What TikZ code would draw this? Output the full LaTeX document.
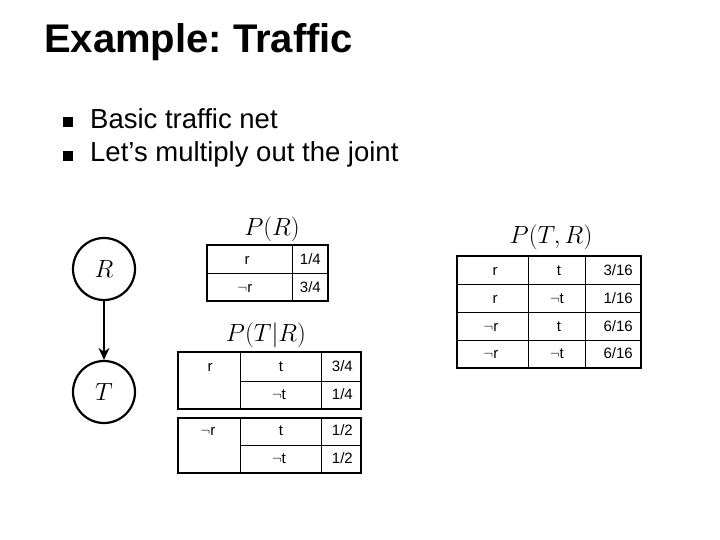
\documentclass[tikz,border=0pt]{standalone}
\usepackage{fontspec}
\setmainfont{Liberation Sans}
\usepackage{amssymb}
\usetikzlibrary{arrows.meta}
\frenchspacing
\begin{document}
\begin{tikzpicture}[x=1pt,y=-1pt,
  outer/.style={line width=2.8pt},
  inner/.style={line width=0.9pt},
  cell/.style={font=\fontsize{15}{17}\selectfont, inner sep=0pt, text height=11pt, text depth=0pt},
  ttl/.style={font=\fontsize{30}{32}\selectfont, inner sep=0pt},
  bul/.style={font=\fontsize{27.5}{30}\selectfont, anchor=west, inner sep=0pt},
  var/.style={circle, draw, line width=2.2pt, minimum size=62pt, font=\fontsize{30}{32}\selectfont}]
\useasboundingbox (0,0) rectangle (720,540);
\node[anchor=west, font=\bfseries\fontsize{40}{44}\selectfont, inner sep=0pt] (title) at (44,42) {Example: Traffic};
\fill (63,117) rectangle (73,127);
\fill (63,151) rectangle (73,161);
\node[bul] (b1) at (90,119) {Basic traffic net};
\node[bul] (b2) at (90,154) {Let’s multiply out the joint};
% network
\node[var] (R) at (104,269) {$R$};
\node[var] (T) at (104,392) {$T$};
\draw[line width=1.4pt, -{Stealth[length=12pt,width=11pt]}] (R) -- (T);
% P(R)
\node[ttl] (tR) at (272,229) {$P(R)$};
\draw[inner] (207,273) -- (328,273) (292,245) -- (292,301);
\draw[outer] (207,245) rectangle (328,301);
\node[cell] (a1) at (247,259) {r};
\node[cell, anchor=east] (a2) at (321,259) {1/4};
\node[cell] (a3) at (245,287) {$\neg$r};
\node[cell, anchor=east] (a4) at (321,287) {3/4};
% P(T|R)
\node[ttl] (tTR) at (266,335) {$P(T|R)$};
\draw[inner] (240,381) -- (361,381) (240,352) -- (240,409) (321,352) -- (321,409);
\draw[outer] (178,352) rectangle (361,409);
\draw[inner] (240,445) -- (361,445) (240,418) -- (240,473) (321,418) -- (321,473);
\draw[outer] (178,418) rectangle (361,473);
\node[cell] (c1) at (210,366) {r};
\node[cell] (c2) at (281,366) {t};
\node[cell, anchor=east] (c3) at (353,366) {3/4};
\node[cell] (c4) at (279,394) {$\neg$t};
\node[cell, anchor=east] (c5) at (353,394) {1/4};
\node[cell] (c6) at (208,430) {$\neg$r};
\node[cell] (c7) at (281,430) {t};
\node[cell, anchor=east] (c8) at (353,430) {1/2};
\node[cell] (c9) at (279,458) {$\neg$t};
\node[cell, anchor=east] (c10) at (353,458) {1/2};
% P(T,R)
\node[ttl] (tJ) at (551,237) {$P(T,R)$};
\draw[inner] (457,284) -- (641,284) (457,312) -- (641,312) (457,340) -- (641,340)
  (528,256) -- (528,368) (585,256) -- (585,368);
\draw[outer] (457,256) rectangle (641,368);
\node[cell] (j1) at (495,270) {r};
\node[cell] (j2) at (559,270) {t};
\node[cell, anchor=east] (j3) at (633,270) {3/16};
\node[cell] (j4) at (495,298) {r};
\node[cell] (j5) at (557,298) {$\neg$t};
\node[cell, anchor=east] (j6) at (633,298) {1/16};
\node[cell] (j7) at (491,326) {$\neg$r};
\node[cell] (j8) at (559,326) {t};
\node[cell, anchor=east] (j9) at (633,326) {6/16};
\node[cell] (j10) at (491,353) {$\neg$r};
\node[cell] (j11) at (557,353) {$\neg$t};
\node[cell, anchor=east] (j12) at (633,353) {6/16};
\end{tikzpicture}
\end{document}
